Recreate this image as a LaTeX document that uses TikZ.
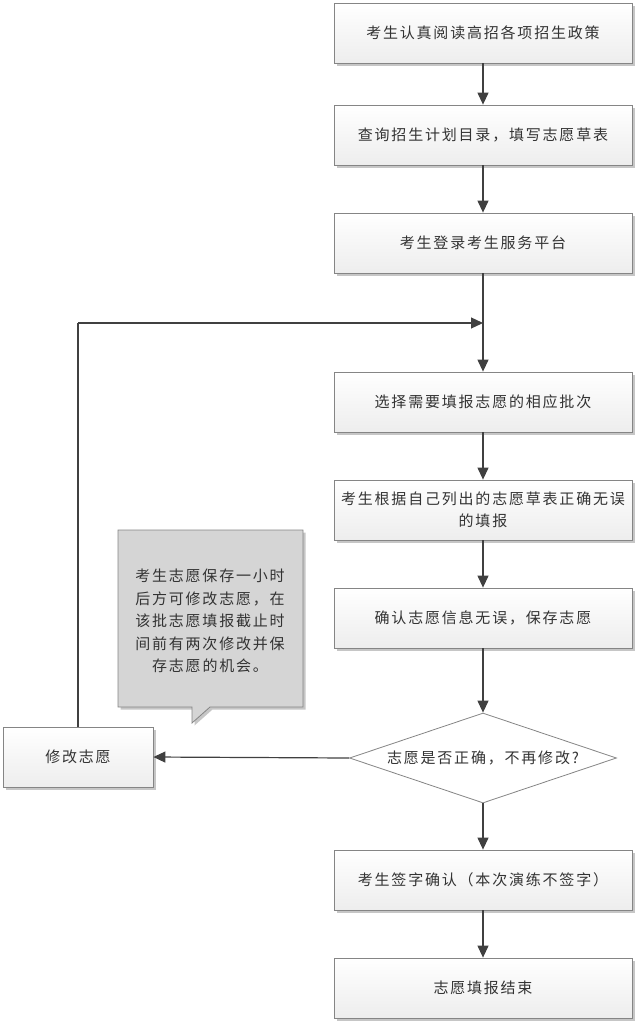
\documentclass[tikz,border=0pt]{standalone}
\usepackage{fontspec}
\setmainfont{Noto Sans CJK SC}[LetterSpace=12]
\usetikzlibrary{shadows,arrows.meta,shapes.geometric}
\definecolor{bordc}{HTML}{858585}
\definecolor{linec}{HTML}{404040}
\definecolor{txtc}{HTML}{333333}
\definecolor{notec}{HTML}{D5D5D5}
\begin{document}
\begin{tikzpicture}[x=1pt,y=-1pt,
  stepbox/.style={draw=bordc, line width=0.8pt, shading=axis, top color=white, bottom color=gray!14,
    minimum width=298pt, minimum height=60pt, inner sep=2pt, align=center, text=txtc,
    font=\fontsize{15}{22}\selectfont,
    drop shadow={shadow xshift=2.5pt, shadow yshift=-2.5pt, fill=gray!45, opacity=1}},
  decbox/.style={draw=bordc, line width=0.8pt, fill=white, diamond, aspect=2.97,
    minimum width=267pt, minimum height=90pt, inner sep=0pt, text=txtc,
    font=\fontsize{15}{22}\selectfont},
  conn/.style={draw=linec, line width=1.2pt, -{Triangle[length=12pt,width=11pt]}},
  plainline/.style={draw=linec, line width=1.2pt}]
\useasboundingbox (0,0) rectangle (640,1026);
\node[stepbox] (b1) at (483,33) {考生认真阅读高招各项招生政策};
\node[stepbox] (b2) at (483,135) {查询招生计划目录，填写志愿草表};
\node[stepbox] (b3) at (483,243) {考生登录考生服务平台};
\node[stepbox] (b4) at (483,402) {选择需要填报志愿的相应批次};
\node[stepbox] (b5) at (483,510) {考生根据自己列出的志愿草表正确无误\\的填报};
\node[stepbox] (b6) at (483,618) {确认志愿信息无误，保存志愿};
\node[decbox] (d) at (483,758) {志愿是否正确，不再修改?};
\node[stepbox] (b7) at (483,880) {考生签字确认（本次演练不签字）};
\node[stepbox] (b8) at (483,988) {志愿填报结束};
\node[stepbox, minimum width=150pt] (m) at (78,757) {修改志愿};
\coordinate (j) at (483,323);
\coordinate (c) at (78,323);
% callout
\filldraw[draw=bordc, line width=0.8pt, fill=notec,
  drop shadow={shadow xshift=2.5pt, shadow yshift=-2.5pt, fill=gray!45, opacity=1}]
  (118,530) -- (303,530) -- (303,707) -- (210,707) -- (192,723) -- (192,707) -- (118,707) -- cycle;
\node[align=center, text=txtc, font=\fontsize{15}{22.5}\selectfont] (note) at (210,621)
  {考生志愿保存一小时\\后方可修改志愿，在\\该批志愿填报截止时\\间前有两次修改并保\\存志愿的机会。};
% connectors
\draw[conn] (b1) -- (b2);
\draw[conn] (b2) -- (b3);
\draw[conn] (b3) -- (b4);
\draw[conn] (b4) -- (b5);
\draw[conn] (b5) -- (b6);
\draw[conn] (b6) -- (d);
\draw[conn] (d) -- (b7);
\draw[conn] (b7) -- (b8);
\draw[conn] (d.west) -- (m.east);
\draw[plainline] (m.north) -- (c);
\draw[conn] (c) -- (j);
\end{tikzpicture}
\end{document}
